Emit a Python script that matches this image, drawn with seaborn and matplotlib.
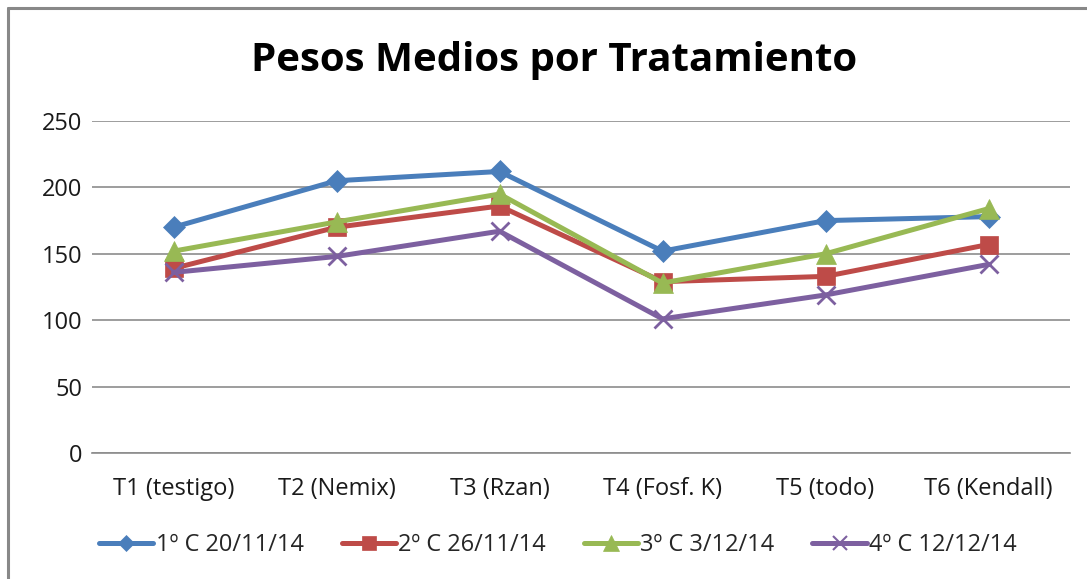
import matplotlib
matplotlib.use("Agg")
import matplotlib.pyplot as plt
import seaborn as sns
import pandas as pd
from matplotlib.lines import Line2D

categories = ["T1 (testigo)", "T2 (Nemix)", "T3 (Rzan)", "T4 (Fosf. K)", "T5 (todo)", "T6 (Kendall)"]
series_names = ["1º C 20/11/14", "2º C 26/11/14", "3º C 3/12/14", "4º C 12/12/14"]
s1 = [170, 205, 212, 152, 175, 178]
s2 = [139, 170, 186, 129, 133, 157]
s3 = [152, 174, 195, 128, 150, 184]
s4 = [136, 148, 167, 101, 119, 142]
yticks = [0, 50, 100, 150, 200, 250]

colors = ["#4A7EBB", "#BE4B48", "#98B954", "#7D60A0"]
markers = ["D", "s", "^", "x"]
msizes = [11.5, 13.5, 15, 13]

sns.set_theme(style="white")
plt.rcParams["font.family"] = ["Open Sans", "DejaVu Sans"]

W, H = 1087, 579
fig = plt.figure(figsize=(W / 100, H / 100), dpi=100)
ax = fig.add_axes([92 / W, 1 - 453 / H, (1070 - 92) / W, (453 - 121) / H])

for name, vals, c, m, ms in zip(series_names, [s1, s2, s3, s4], colors, markers, msizes):
    df = pd.DataFrame({"cat": categories, "val": vals})
    sns.lineplot(data=df, x="cat", y="val", ax=ax, color=c, marker=m, markersize=ms,
                 linewidth=3.6, markeredgecolor=c, markeredgewidth=2.0 if m == "x" else 0.5,
                 label=name, sort=False)

ax.set_ylim(0, 250)
ax.set_xlim(-0.5, 5.5)
ax.set_yticks(yticks)
ax.set_yticklabels([str(v) for v in yticks])
ax.yaxis.grid(True, color="#8C8C8C", linewidth=1.2)
ax.xaxis.grid(False)
ax.set_axisbelow(True)
for side in ["top", "right", "left"]:
    ax.spines[side].set_visible(False)
ax.spines["bottom"].set_color("#8C8C8C")
ax.spines["bottom"].set_linewidth(1.2)
ax.tick_params(axis="both", length=0, labelsize=17, colors="#1a1a1a")
ax.tick_params(axis="y", pad=7)
ax.tick_params(axis="x", pad=17)
ax.set_xlabel("")
ax.set_ylabel("")

fig.text(554 / W, 1 - 61 / H, "Pesos Medios por Tratamiento", ha="center", va="center",
         fontsize=29, fontweight="bold", color="black")

ax.legend_.remove()
handles = [Line2D([0], [0], color=c, marker=m, markersize=ms * 0.75, linewidth=3.6,
                  markeredgecolor=c, markeredgewidth=1.5 if m == "x" else 0.5)
           for c, m, ms in zip(colors, markers, msizes)]
fig.legend(handles, series_names, loc="center", bbox_to_anchor=(558 / W, 1 - 545 / H), ncol=4,
           frameon=False, fontsize=17, handlelength=2.3, handletextpad=0.1, columnspacing=1.6)

fig.add_artist(Line2D([8 / W, 1], [1 - 8 / H, 1 - 8 / H], color="#888888", linewidth=2.2,
                      transform=fig.transFigure))
fig.add_artist(Line2D([8 / W, 8 / W], [1 - 8 / H, 0], color="#888888", linewidth=2.2,
                      transform=fig.transFigure))

fig.savefig("out.png", dpi=100)
